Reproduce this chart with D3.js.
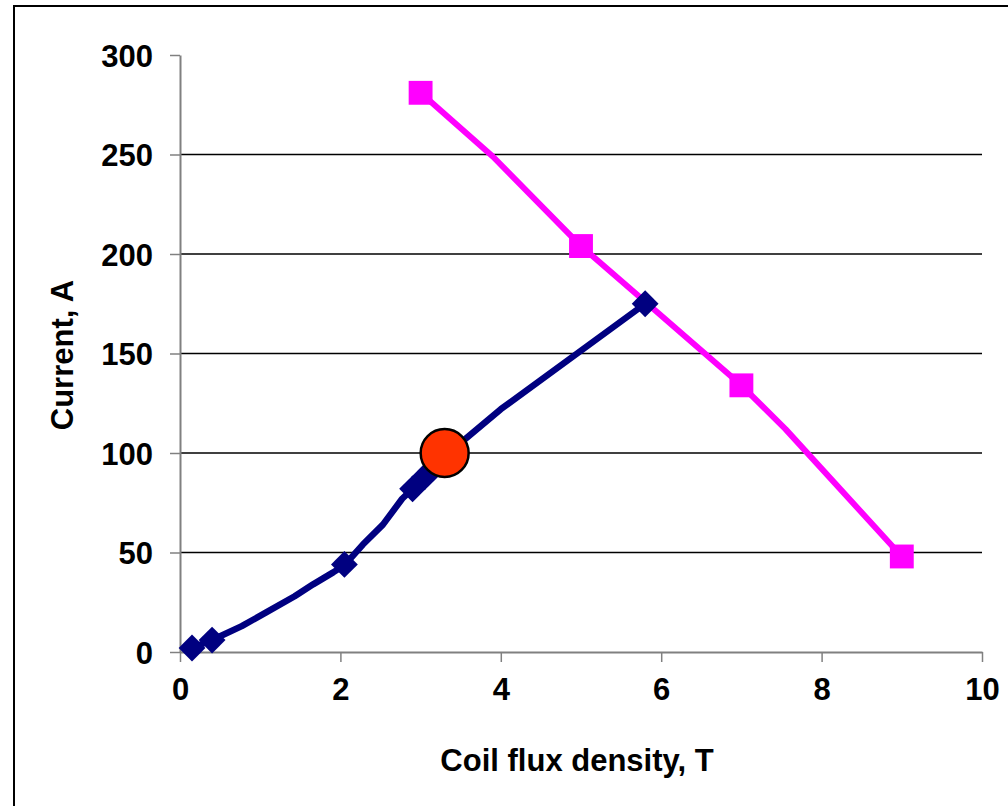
<!DOCTYPE html>
<html lang="en">
<head>
    <title>Coil flux density vs current</title>
    <script src="https://d3js.org/d3.v7.min.js" charset="utf-8"></script>
    <style>
        body { margin: 0; background: #fff; }
        text { font-family: "Liberation Sans", Arial, sans-serif; font-weight: bold; fill: #000; }
    </style>
</head>
<body>
<script>
    // coil load line (smooth curve)
    var curveX = [0.15, 0.4, 0.77, 1.08, 1.43, 1.66, 1.91, 2.06, 2.28, 2.53, 2.77, 2.9, 3.05, 3.2, 4.0, 5.8];
    var curveY = [2, 6, 13, 20, 28, 34, 40, 44, 54, 64, 77, 82, 88, 95, 122, 175];
    // measured points on that curve
    var pointX = [0.15, 0.4, 2.05, 2.9, 3.05, 3.2, 5.8];
    var pointY = [2, 6, 44, 82, 88, 95, 175];
    // critical current line
    var limitX = [3, 3.9, 5, 5.6, 7, 7.55, 9];
    var limitY = [281, 249, 204, 183, 134, 112, 48];
    var limitMarkX = [3, 5, 7, 9];
    var limitMarkY = [281, 204, 134, 48];
    // operating point
    var opX = [3.3];
    var opY = [100];

    var xTicks = [0, 2, 4, 6, 8, 10];
    var yTicks = [0, 50, 100, 150, 200, 250, 300];

    var svg = d3.select('body').append('svg')
        .attr('width', 1008)
        .attr('height', 806);

    // outer chart frame (only top and left edges are in view)
    svg.append('rect')
        .attr('x', 14).attr('y', 6)
        .attr('width', 1100).attr('height', 900)
        .attr('fill', 'none').attr('stroke', '#000').attr('stroke-width', 2);

    var x = d3.scaleLinear().domain([0, 10]).range([180, 982]);
    var y = d3.scaleLinear().domain([0, 300]).range([652, 55]);

    // gridlines
    svg.selectAll('line.grid')
        .data(yTicks.filter(function (d) { return d > 0 && d < 300; }))
        .enter().append('line')
        .attr('class', 'grid')
        .attr('x1', x(0)).attr('x2', x(10))
        .attr('y1', function (d) { return y(d); })
        .attr('y2', function (d) { return y(d); })
        .attr('stroke', '#000').attr('stroke-width', 1.5);

    // axes
    var xAxis = svg.append('g')
        .attr('transform', 'translate(0,' + y(0) + ')')
        .call(d3.axisBottom(x).tickValues(xTicks).tickSize(10).tickSizeOuter(0).tickPadding(16));
    var yAxis = svg.append('g')
        .attr('transform', 'translate(' + x(0) + ',0)')
        .call(d3.axisLeft(y).tickValues(yTicks).tickSize(10).tickSizeOuter(0).tickPadding(17));

    [xAxis, yAxis].forEach(function (g) {
        g.select('.domain').attr('stroke', '#808080').attr('stroke-width', 2);
        g.selectAll('.tick line').attr('stroke', '#808080').attr('stroke-width', 1.5);
        g.selectAll('.tick text')
            .attr('fill', '#000')
            .style('font-size', '31px')
            .style('font-family', '"Liberation Sans", Arial, sans-serif')
            .style('font-weight', 'bold');
    });
    yAxis.selectAll('.tick text').attr('dy', '0.36em');
    xAxis.selectAll('.tick text').attr('dy', '0.72em');

    // axis titles
    svg.append('text')
        .attr('x', 577).attr('y', 771)
        .attr('text-anchor', 'middle')
        .style('font-size', '31px')
        .text('Coil flux density, T');
    svg.append('text')
        .attr('transform', 'translate(73,355) rotate(-90)')
        .attr('text-anchor', 'middle')
        .style('font-size', '31px')
        .text('Current, A');

    var line = d3.line()
        .x(function (d) { return x(d[0]); })
        .y(function (d) { return y(d[1]); });

    // magenta limit line
    svg.append('path')
        .datum(d3.zip(limitX, limitY))
        .attr('d', line)
        .attr('fill', 'none').attr('stroke', '#ff00ff').attr('stroke-width', 6)
        .attr('stroke-linejoin', 'round');
    svg.selectAll('path.sq')
        .data(d3.zip(limitMarkX, limitMarkY))
        .enter().append('path')
        .attr('class', 'sq')
        .attr('d', d3.symbol().type(d3.symbolSquare).size(570))
        .attr('transform', function (d) { return 'translate(' + x(d[0]) + ',' + y(d[1]) + ')'; })
        .attr('fill', '#ff00ff');

    // navy load curve
    svg.append('path')
        .datum(d3.zip(curveX, curveY))
        .attr('d', line)
        .attr('fill', 'none').attr('stroke', '#000080').attr('stroke-width', 6.5)
        .attr('stroke-linejoin', 'round');
    svg.selectAll('path.dia')
        .data(d3.zip(pointX, pointY))
        .enter().append('path')
        .attr('class', 'dia')
        .attr('d', d3.symbol().type(d3.symbolSquare).size(360))
        .attr('transform', function (d) { return 'translate(' + x(d[0]) + ',' + y(d[1]) + ') rotate(45)'; })
        .attr('fill', '#000080');

    // operating point
    svg.selectAll('circle.op')
        .data(d3.zip(opX, opY))
        .enter().append('circle')
        .attr('class', 'op')
        .attr('cx', function (d) { return x(d[0]); })
        .attr('cy', function (d) { return y(d[1]); })
        .attr('r', 24)
        .attr('fill', '#ff3300').attr('stroke', '#000').attr('stroke-width', 2.5);
</script>
</body>
</html>
